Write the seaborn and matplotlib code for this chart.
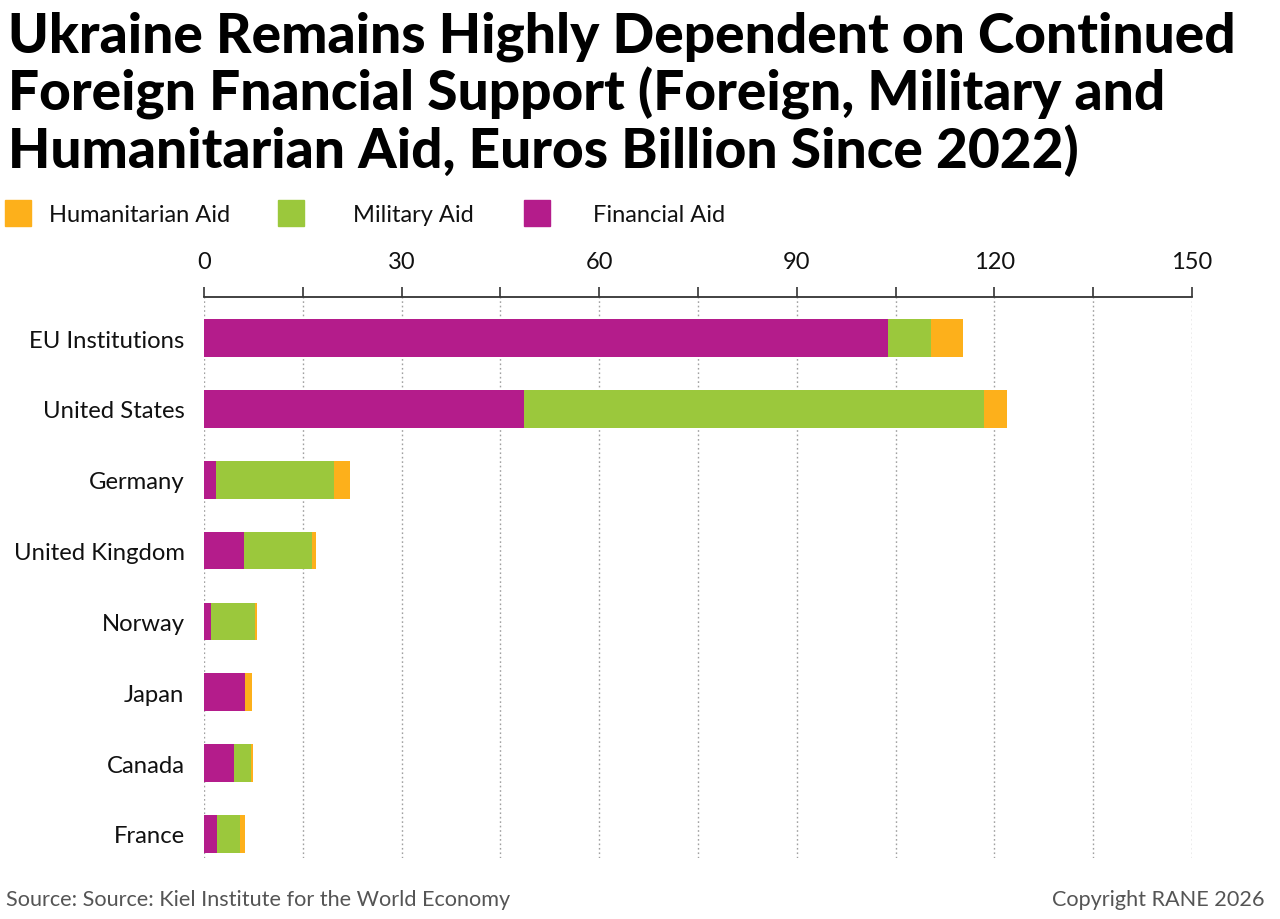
import matplotlib
matplotlib.use("Agg")
import matplotlib.pyplot as plt
from matplotlib.patches import Rectangle
import seaborn as sns
import pandas as pd
import numpy as np

countries = ["EU Institutions", "United States", "Germany", "United Kingdom",
             "Norway", "Japan", "Canada", "France"]
financial = [103.8, 48.6, 1.8, 6.0, 1.0, 6.2, 4.5, 2.0]
military = [6.6, 69.8, 17.9, 10.4, 6.7, 0.0, 2.6, 3.5]
humanitarian = [4.8, 3.5, 2.5, 0.6, 0.3, 1.1, 0.3, 0.8]

series_names = ["Humanitarian Aid", "Military Aid", "Financial Aid"]
colors = {"Humanitarian Aid": "#FDB01B", "Military Aid": "#9BC83C", "Financial Aid": "#B41C8B"}
x_ticks = [0, 30, 60, 90, 120, 150]

title = ("Ukraine Remains Highly Dependent on Continued\n"
         "Foreign Fnancial Support (Foreign, Military and\n"
         "Humanitarian Aid, Euros Billion Since 2022)")
source = "Source: Source: Kiel Institute for the World Economy"
copyright_txt = "Copyright RANE 2026"

sns.set_theme(style="white")
plt.rcParams['font.family'] = ['Lato', 'DejaVu Sans']

df = pd.DataFrame({"country": countries, "fin": financial, "mil": military, "hum": humanitarian})
df["c_fin"] = df["fin"]
df["c_mil"] = df["fin"] + df["mil"]
df["c_hum"] = df["c_mil"] + df["hum"]

W, H = 1280, 920
fig = plt.figure(figsize=(12.8, 9.2), dpi=100)
ax = fig.add_axes([204 / W, 1 - 859 / H, (1192 - 204) / W, (859 - 298) / H])

for col, name in [("c_hum", "Humanitarian Aid"), ("c_mil", "Military Aid"), ("c_fin", "Financial Aid")]:
    sns.barplot(data=df, y="country", x=col, order=countries, orient="h",
                color=colors[name], saturation=1, width=0.53, ax=ax, linewidth=0)

ax.set_xlim(0, 150)
ax.set_ylim(7.34, -0.58)
ax.xaxis.tick_top()
ax.set_xticks(np.arange(0, 151, 15))
ax.set_xticklabels([str(v) if v in x_ticks else "" for v in np.arange(0, 151, 15)])
ax.tick_params(axis="x", which="both", top=True, bottom=False, direction="out",
               length=7, width=1.2, color="#333333", labelsize=17, pad=11, labelcolor="#111111")
ax.tick_params(axis="y", length=0, labelsize=17.2, pad=14, labelcolor="#111111")
for v in np.arange(0, 151, 15):
    ax.axvline(v, color="#a0a0a0", linestyle=(0, (1.2, 2.0)), linewidth=1, zorder=0)
for s in ["right", "bottom", "left"]:
    ax.spines[s].set_visible(False)
ax.spines["top"].set_color("#333333")
ax.spines["top"].set_linewidth(1.3)
ax.set_xlabel("")
ax.set_ylabel("")

# Title
fig.text(8 / W, 1 - 12 / H, title, ha="left", va="top", fontsize=39.6, fontweight="black",
         color="#000000", linespacing=1.1)

# Legend
leg_sq_x = [5, 278, 524]
leg_tx_x = [49, 353, 593]
for name, sx, tx in zip(series_names, leg_sq_x, leg_tx_x):
    fig.patches.append(Rectangle((sx / W, 1 - 227 / H), 26 / W, 26 / H,
                                 transform=fig.transFigure, color=colors[name]))
    fig.text(tx / W, 1 - 215 / H, name, ha="left", va="center", fontsize=17, color="#111111")

fig.text(6 / W, 1 - 900 / H, source, ha="left", va="center", fontsize=15.6, color="#555555")
fig.text(1265 / W, 1 - 900 / H, copyright_txt, ha="right", va="center", fontsize=15.6, color="#555555")

fig.savefig("out.png", dpi=100)
